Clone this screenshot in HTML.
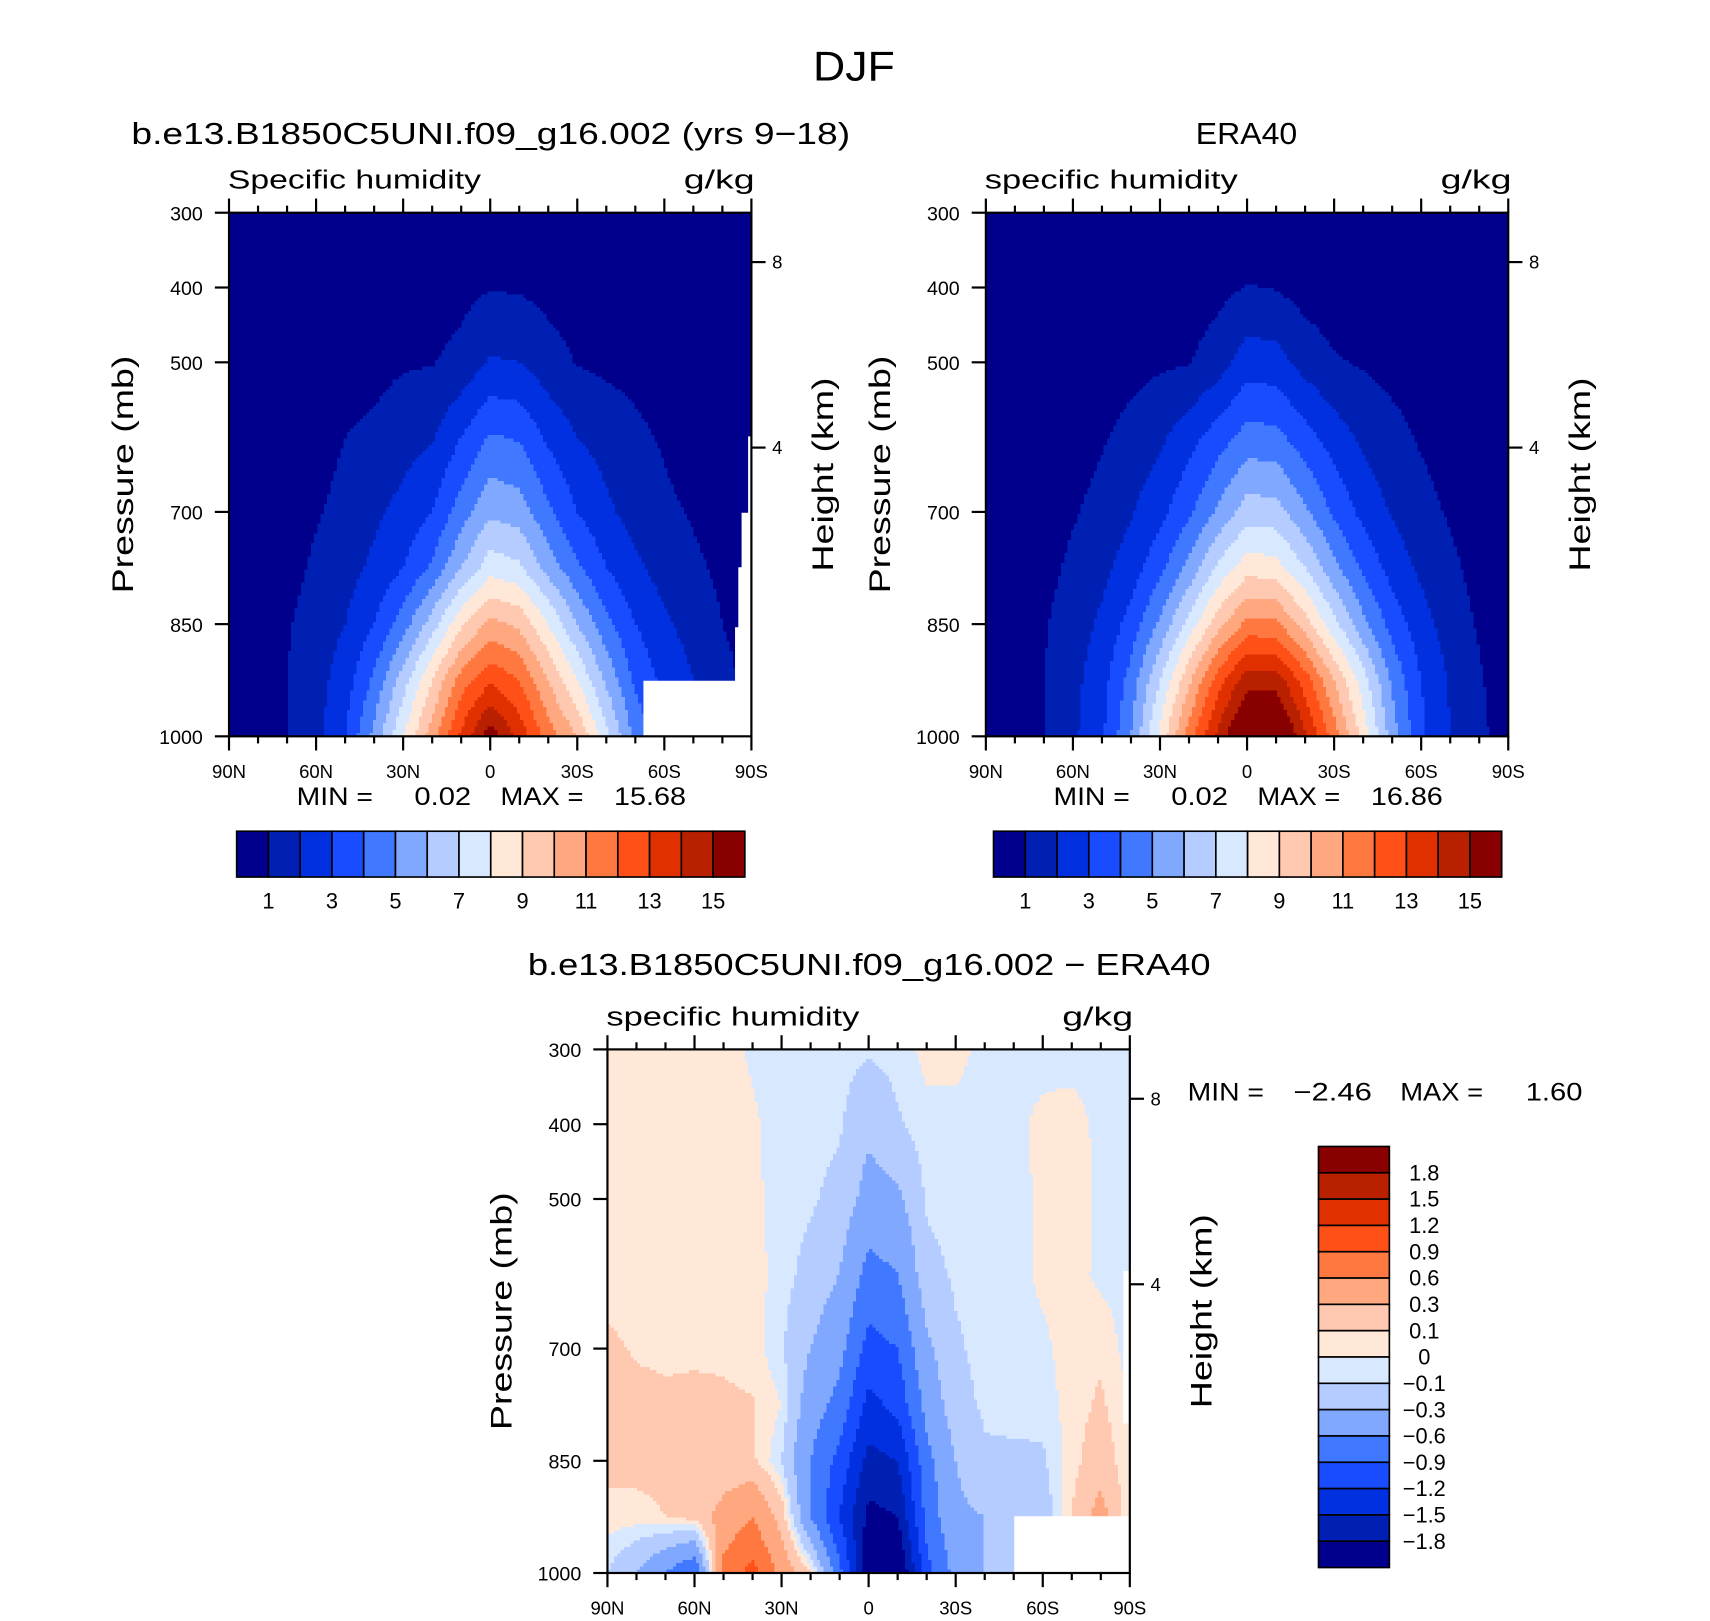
<!DOCTYPE html>
<html><head><meta charset="utf-8">
<style>html,body{margin:0;padding:0;background:#fff}svg{display:block}text{font-family:"Liberation Sans",sans-serif;fill:#000}</style>
</head><body>
<svg id="fig" width="1710" height="1621" viewBox="0 0 1568 1486" preserveAspectRatio="none" xmlns="http://www.w3.org/2000/svg">
<text x="783" y="74" font-size="38" text-anchor="middle" textLength="75" lengthAdjust="spacingAndGlyphs">DJF</text>
</svg>
<script>
// ---------- data ----------
const lats = [90,80,70,60,50,40,30,20,10,0,-10,-20,-30,-40,-50,-60,-70,-80,-90];
const pLevels = [300,400,500,600,700,775,850,925,1000];
const qLevels = [1,2,3,4,5,6,7,8,9,10,11,12,13,14,15];
const diffLevels = [-1.8,-1.5,-1.2,-0.9,-0.6,-0.3,-0.1,0,0.1,0.3,0.6,0.9,1.2,1.5,1.8];
const qTickLabels = ["1","3","5","7","9","11","13","15"];
const diffTickLabels = ["1.8","1.5","1.2","0.9","0.6","0.3","0.1","0","\u22120.1","\u22120.3","\u22120.6","\u22120.9","\u22121.2","\u22121.5","\u22121.8"];
const xTickLabels = ["90N","60N","30N","0","30S","60S","90S"];
const yTickLabels = ["300","400","500","700","850","1000"];
const yTickValues = [300,400,500,700,850,1000];
const palette = ["#00008c","#0020b4","#0030e0","#1a4cff","#4078ff","#80a8ff","#b4ccff","#d8e8ff","#ffe8d8","#ffc8b0","#ffa880","#ff7840","#ff5018","#e03000","#b82000","#880000"];

const modelQ = [
[0.2,0.2,0.2,0.2,0.2,0.2,0.2,0.2,0.2,0.25,0.25,0.2,0.2,0.2,0.2,0.2,0.2,0.2,0.2],
[0.02,0.03,0.05,0.1,0.2,0.3,0.4,0.5,0.7,0.95,0.9,0.7,0.55,0.5,0.4,0.3,0.2,0.1,0.05],
[0.05,0.05,0.1,0.3,0.6,0.7,0.9,0.95,1.3,2.1,2.0,1.4,0.95,0.8,0.7,0.5,0.3,0.2,0.1],
[0.1,0.1,0.2,0.6,1.0,1.2,1.6,1.9,3.0,4.1,3.9,2.8,2.0,1.6,1.2,0.9,0.5,0.3,0.2],
[0.15,0.2,0.4,0.9,1.3,1.8,2.3,3.0,4.5,5.8,5.5,4.2,3.0,2.2,1.6,1.2,0.9,0.5,0.3],
[0.2,0.3,0.6,1.2,1.6,2.2,3.0,4.2,6.0,7.6,7.2,5.6,4.2,3.0,2.2,1.6,1.2,0.8,0.5],
[0.3,0.5,0.9,1.5,2.0,3.0,4.5,6.5,8.8,10.3,9.8,8.0,6.0,4.3,3.0,2.2,1.6,1.0,0.6],
[0.4,0.7,1.0,1.6,2.5,4.2,6.5,9.0,11.5,12.8,12.0,10.0,8.0,5.8,3.8,2.7,2.0,1.3,0.7],
[0.5,0.8,1.0,1.7,3.0,5.3,8.0,10.5,13.2,15.6,13.7,11.5,10.0,7.3,4.7,3.2,2.3,1.5,0.8]];

const eraQ = [
[0.2,0.2,0.2,0.2,0.2,0.2,0.2,0.2,0.2,0.25,0.25,0.2,0.2,0.2,0.2,0.2,0.2,0.2,0.2],
[0.02,0.03,0.05,0.1,0.2,0.3,0.4,0.5,0.7,1.05,0.95,0.6,0.45,0.4,0.3,0.2,0.1,0.05,0.03],
[0.05,0.05,0.1,0.3,0.5,0.7,0.85,0.95,1.5,2.5,2.4,1.6,1.1,0.9,0.7,0.5,0.3,0.15,0.1],
[0.1,0.15,0.3,0.6,0.9,1.3,1.8,2.6,3.5,4.4,4.3,3.4,2.5,1.8,1.3,0.9,0.6,0.3,0.15],
[0.15,0.25,0.5,0.9,1.3,1.9,2.7,3.8,5.2,6.5,6.4,5.2,3.8,2.7,1.9,1.3,0.9,0.5,0.2],
[0.2,0.4,0.7,1.2,1.7,2.5,3.7,5.3,7.2,8.6,8.4,7.0,5.3,3.8,2.6,1.8,1.2,0.7,0.3],
[0.3,0.5,0.9,1.5,2.2,3.4,5.2,7.4,9.6,11.3,11.2,9.5,7.3,5.3,3.6,2.4,1.5,0.9,0.4],
[0.4,0.7,1.0,1.7,2.6,4.4,7.0,9.8,12.5,14.6,14.6,12.5,10.0,7.5,4.8,3.0,1.9,1.1,0.5],
[0.5,0.8,0.95,1.8,2.8,5.0,8.3,11.5,14.3,16.8,16.8,14.2,11.5,8.6,5.5,3.2,2.0,1.2,0.6]];

const diffQ = [
[0.05,0.05,0.05,0.05,0.05,-0.02,-0.05,-0.05,-0.05,-0.08,-0.05,0.03,0.02,-0.02,-0.02,-0.03,-0.03,-0.03,-0.03],
[0.05,0.05,0.05,0.05,0.05,0.02,-0.05,-0.05,-0.08,-0.25,-0.12,-0.03,-0.02,-0.02,-0.02,0.02,0.03,-0.02,-0.03],
[0.05,0.05,0.05,0.05,0.05,0.03,-0.05,-0.08,-0.15,-0.4,-0.35,-0.08,-0.05,-0.05,-0.05,0.03,0.05,-0.02,-0.03],
[0.06,0.06,0.06,0.06,0.06,0.05,-0.05,-0.15,-0.3,-0.7,-0.6,-0.15,-0.08,-0.05,-0.05,0.03,0.05,-0.03,-0.05],
[0.12,0.09,0.08,0.08,0.08,0.05,-0.08,-0.3,-0.5,-1.0,-0.9,-0.35,-0.12,-0.06,-0.06,-0.03,0.06,0.08,-0.05],
[0.15,0.13,0.12,0.13,0.12,0.11,0.0,-0.45,-0.7,-1.3,-1.1,-0.5,-0.15,-0.08,-0.07,-0.06,0.05,0.12,0.0],
[0.15,0.15,0.15,0.14,0.14,0.13,-0.1,-0.6,-1.0,-1.6,-1.5,-0.7,-0.3,-0.12,-0.12,-0.12,0.05,0.2,0.0],
[0.05,0.05,0.1,0.15,0.4,0.6,0.2,-0.6,-1.2,-1.9,-1.8,-0.8,-0.35,-0.3,-0.2,-0.2,0.1,0.4,0.0],
[-0.1,-0.3,-0.6,-0.9,0.7,1.0,0.5,0.1,-0.8,-2.0,-2.2,-1.0,-0.5,-0.3,-0.2,-0.2,0.1,0.3,0.0]];

// ---------- helpers ----------
const NS = "http://www.w3.org/2000/svg";
const svg = document.getElementById("fig");
function mk(tag, attrs, parent){const e=document.createElementNS(NS,tag);for(const k in attrs)e.setAttribute(k,attrs[k]);(parent||svg).appendChild(e);return e;}
function txt(s,x,y,size,anchor,parent,name,len){const t=mk("text",{x:x,y:y,"font-size":size,"text-anchor":anchor||"start"},parent);t.textContent=s;
if(len){t.setAttribute("textLength",len);t.setAttribute("lengthAdjust","spacingAndGlyphs");}


return t;}

function sample(field, lat, p){
  let i=0; while(i<lats.length-2 && lat<lats[i+1]) i++;
  let fx=(lats[i]-lat)/(lats[i]-lats[i+1]); fx=Math.max(0,Math.min(1,fx));
  let j=0; while(j<pLevels.length-2 && p>pLevels[j+1]) j++;
  let fy=(p-pLevels[j])/(pLevels[j+1]-pLevels[j]); fy=Math.max(0,Math.min(1,fy));
  const a=field[j][i],b=field[j][i+1],c=field[j+1][i],d=field[j+1][i+1];
  return (a*(1-fx)+b*fx)*(1-fy)+(c*(1-fx)+d*fx)*fy;
}
function levelIndex(v, levels){let k=0;while(k<levels.length && v>=levels[k])k++;return k;}

function drawPanel(o){
  const g=mk("g",{});
  
  
  const W=479,H=480,x0=o.x,y0=o.y;
  const xOf=lat=>x0+(90-lat)/180*W;
  const yOf=p=>y0+(p-300)/700*H;
  const latOf=x=>90-(x-x0)/W*180;
  const pOf=y=>300+(y-y0)/H*700;
  const cell=3;
  const field=mk("g",{"shape-rendering":"crispEdges"},g);
  
  
  function cellRect(xs,xe,y,hh,idx){
    const r=mk("rect",{x:xs,y:y,width:xe-xs+0.4,height:hh+0.4,fill:palette[idx]},field);
    
    
  }
  for(let y=y0;y<y0+H;y+=cell){
    const hh=Math.min(cell,y0+H-y);
    const p=pOf(y+hh/2);
    let runStart=x0,runIdx=-1;
    for(let x=x0;x<x0+W;x+=cell){
      const w=Math.min(cell,x0+W-x);
      const idx=levelIndex(sample(o.data,latOf(x+w/2),p),o.levels);
      if(idx!==runIdx){
        if(runIdx>=0) cellRect(runStart,x,y,hh,runIdx);
        runStart=x;runIdx=idx;
      }
    }
    if(runIdx>=0) cellRect(runStart,x0+W,y,hh,runIdx);
  }
  if(o.missing){const m=mk("path",{d:o.missing,fill:"#fff"},g);
    
    }
  const fr=mk("rect",{x:x0,y:y0,width:W,height:H,fill:"none",stroke:"#000","stroke-width":2},g);
  
  
  for(let lat=90;lat>=-90;lat-=10){
    const x=xOf(lat),major=(lat%30===0),L=major?13:6.5;
    mk("line",{x1:x,y1:y0,x2:x,y2:y0-L,stroke:"#000","stroke-width":2},g);
    mk("line",{x1:x,y1:y0+H,x2:x,y2:y0+H+L,stroke:"#000","stroke-width":2},g);
  }
  xTickLabels.forEach((s,k)=>txt(s,xOf(90-30*k),y0+H+38,17,"middle",g,"x-tick-label"));
  yTickValues.forEach((p,k)=>{const y=yOf(p);mk("line",{x1:x0,y1:y,x2:x0-13,y2:y,stroke:"#000","stroke-width":2},g);
    txt(yTickLabels[k],x0-24,y+7,18,"end",g,"y-tick-label");});
  [[8,yOf(366)],[4,yOf(614)]].forEach(([h,y])=>{mk("line",{x1:x0+W,y1:y,x2:x0+W+13,y2:y,stroke:"#000","stroke-width":2},g);
    txt(String(h),x0+W+19,y+6,17,"start",g,"height-tick-label");});
  const py=y0+240;
  txt("Pressure (mb)",0,0,27,"middle",g,"y-axis-title",218).setAttribute("transform","translate("+(x0-88)+","+py+") rotate(-90)");
  txt("Height (km)",0,0,27,"middle",g,"right-axis-title",178).setAttribute("transform","translate("+(x0+W+75)+","+py+") rotate(-90)");
  txt(o.sub,x0-1,y0-22,24,"start",g,"variable-label",232);
  txt("g/kg",x0+W+3,y0-22,24,"end",g,"units-label",65);
  txt(o.title,o.titleX,o.titleY,28,"middle",g,"panel-title",o.titleLen);
  return g;
}

function hColorbar(x,y,name){
  const g=mk("g",{});
  
  
  const w=466/16;
  palette.forEach((c,k)=>{const r=mk("rect",{x:x+k*w,y:y,width:w,height:42,fill:c,stroke:"#000","stroke-width":1.5},g);
    
    });
  qTickLabels.forEach((s,k)=>txt(s,x+(1+2*k)*w,y+71,20,"middle",g,"colorbar-label"));
}

drawPanel({name:"model-panel",x:210,y:195,data:modelQ,levels:qLevels,sub:"Specific humidity",
  title:"b.e13.B1850C5UNI.f09_g16.002 (yrs 9\u221218)",titleX:450,titleY:132,titleLen:659,
  missing:"M590,624 L674,624 L674,575 L677,575 L677,520 L680,520 L680,470 L686,470 L686,400 L689,400 L689,675 L590,675 Z"});
drawPanel({name:"era40-panel",x:904,y:195,data:eraQ,levels:qLevels,sub:"specific humidity",
  title:"ERA40",titleX:1143,titleY:132,titleLen:93});
drawPanel({name:"difference-panel",x:557,y:962,data:diffQ,levels:diffLevels,sub:"specific humidity",
  title:"b.e13.B1850C5UNI.f09_g16.002 \u2212 ERA40",titleX:797,titleY:894,titleLen:626,
  missing:"M930,1390 L1036,1390 L1036,1441 L930,1441 Z M1030,1165 L1036,1165 L1036,1305 L1030,1305 Z"});

txt("MIN =",272,738,23,"start",null,"model-min-label",70);txt("0.02",432,738,23,"end",null,"model-min-value",52);
txt("MAX =",459,738,23,"start",null,"model-max-label",76);txt("15.68",629,738,23,"end",null,"model-max-value",66);
txt("MIN =",966,738,23,"start",null,"era-min-label",70);txt("0.02",1126,738,23,"end",null,"era-min-value",52);
txt("MAX =",1153,738,23,"start",null,"era-max-label",76);txt("16.86",1323,738,23,"end",null,"era-max-value",66);
txt("MIN =",1089,1009,23,"start",null,"diff-min-label",70);txt("\u22122.46",1258,1009,23,"end",null,"diff-min-value",72);
txt("MAX =",1284,1009,23,"start",null,"diff-max-label",76);txt("1.60",1451,1009,23,"end",null,"diff-max-value",52);

hColorbar(217,762,"model-colorbar");
hColorbar(911,762,"era-colorbar");

(function(){
  const g=mk("g",{});
  
  
  const x=1209,y=1051,h=386/16;
  for(let k=0;k<16;k++){
    const r=mk("rect",{x:x,y:y+k*h,width:65,height:h,fill:palette[15-k],stroke:"#000","stroke-width":1.5},g);
    
    
  }
  diffTickLabels.forEach((s,k)=>txt(s,1306,y+(k+1)*h+7,20,"middle",g,"colorbar-label"));
})();
</script>
</body></html>
